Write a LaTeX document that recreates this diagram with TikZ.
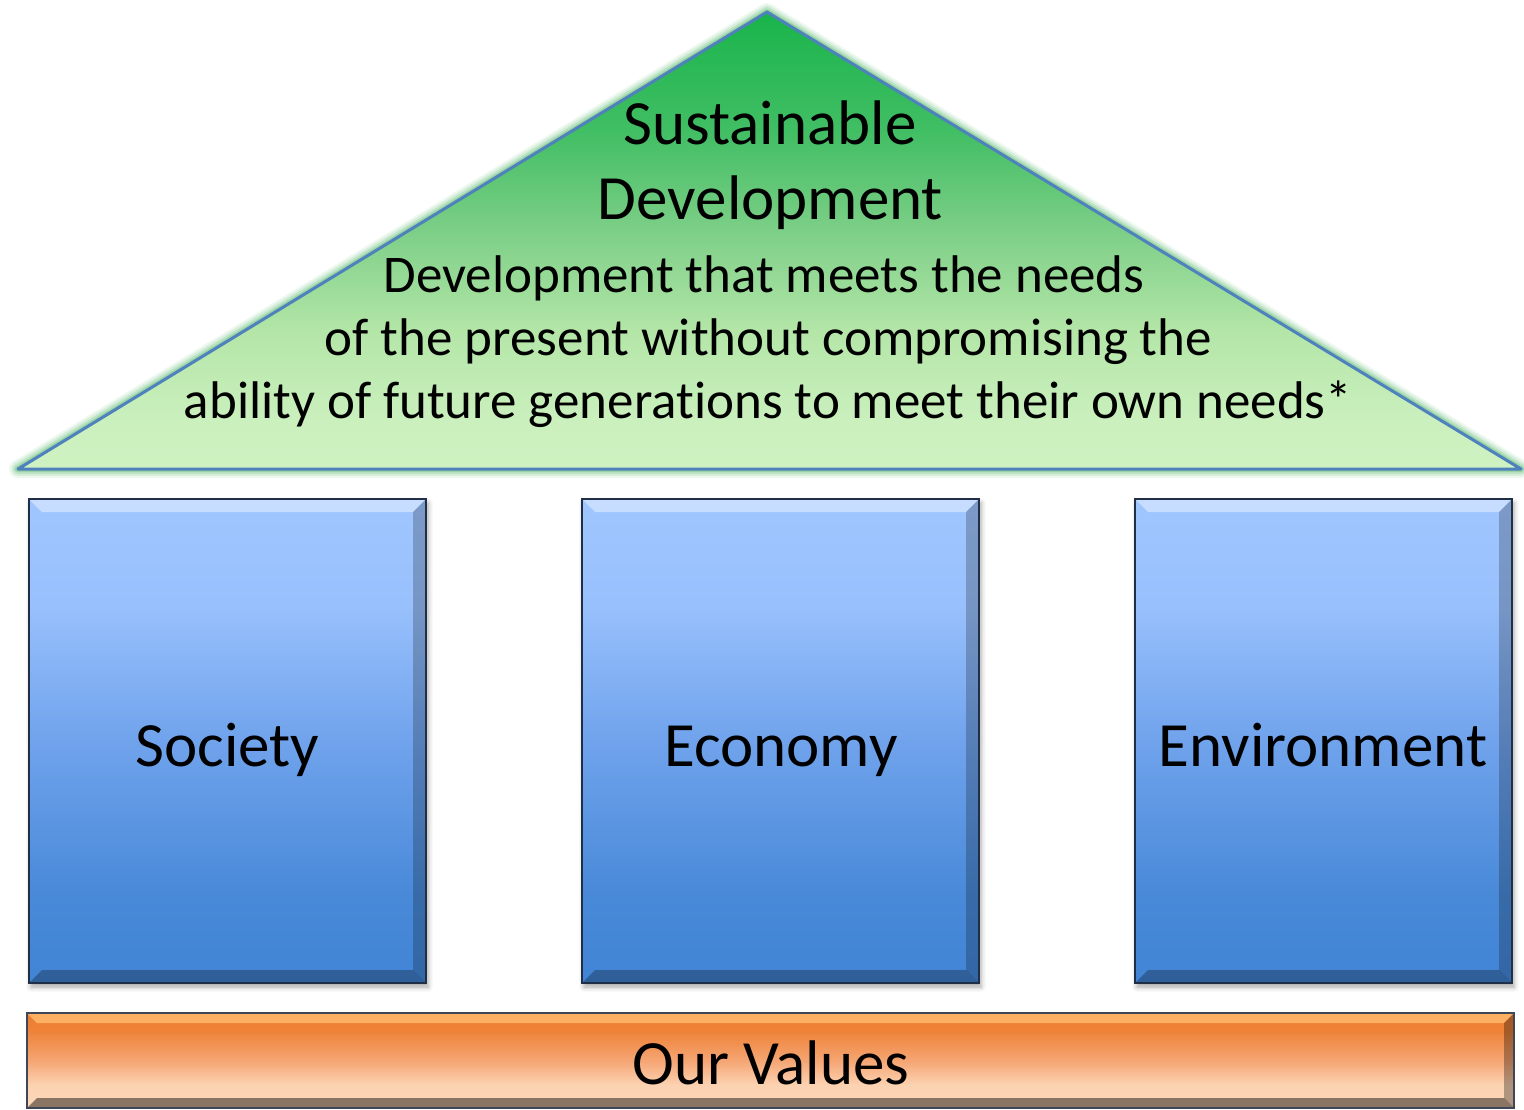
\documentclass[tikz,border=0pt]{standalone}
\usepackage{fontspec}
\setmainfont{Carlito}[Ligatures=NoCommon]
\usetikzlibrary{shadows.blur,calc}

\definecolor{tritop}{RGB}{25,180,75}
\definecolor{triA}{RGB}{65,190,100}
\definecolor{triB}{RGB}{125,207,135}
\definecolor{triC}{RGB}{180,230,168}
\definecolor{triD}{RGB}{203,240,190}
\definecolor{tribot}{RGB}{206,242,193}
\definecolor{triline}{RGB}{79,129,189}
\definecolor{glowgreen}{RGB}{90,185,110}

\definecolor{pA}{RGB}{160,198,255}
\definecolor{pB}{RGB}{152,192,252}
\definecolor{pC}{RGB}{112,163,236}
\definecolor{pD}{RGB}{72,137,216}
\definecolor{pE}{RGB}{66,132,213}
\definecolor{pborder}{RGB}{32,46,70}

\definecolor{oA}{RGB}{237,125,49}
\definecolor{oB}{RGB}{238,130,55}
\definecolor{oC}{RGB}{245,165,115}
\definecolor{oD}{RGB}{252,211,178}
\definecolor{oE}{RGB}{252,215,184}
\definecolor{oborder}{RGB}{62,70,88}
\definecolor{otop}{RGB}{255,182,105}

\pgfdeclareverticalshading{trishade}{100bp}{color(0bp)=(tribot); color(25bp)=(tribot); color(30bp)=(triD); color(40bp)=(triC); color(51bp)=(triB); color(62bp)=(triA); color(75bp)=(tritop); color(100bp)=(tritop)}
\pgfdeclareverticalshading{pillarshade}{100bp}{color(0bp)=(pE); color(25bp)=(pE); color(34bp)=(pD); color(50bp)=(pC); color(64bp)=(pB); color(75bp)=(pA); color(100bp)=(pA)}
\pgfdeclareverticalshading{barshade}{100bp}{color(0bp)=(oE); color(25bp)=(oE); color(37bp)=(oD); color(50bp)=(oC); color(66bp)=(oB); color(75bp)=(oA); color(100bp)=(oA)}

\tikzset{
  pillar/.style={draw=pborder, line width=2.5pt, minimum width=#1, minimum height=484pt,
    inner sep=0pt, shading=pillarshade,
    blur shadow={shadow xshift=2pt, shadow yshift=-4pt, shadow blur radius=5pt, shadow opacity=35},
    path picture={
      \fill[white,opacity=0.42] (path picture bounding box.north west) -- (path picture bounding box.north east)
        -- ([shift={(-13pt,-13pt)}]path picture bounding box.north east)
        -- ([shift={(13pt,-13pt)}]path picture bounding box.north west) -- cycle;
      \fill[black,opacity=0.22] (path picture bounding box.north east) -- (path picture bounding box.south east)
        -- ([shift={(-13pt,13pt)}]path picture bounding box.south east)
        -- ([shift={(-13pt,-13pt)}]path picture bounding box.north east) -- cycle;
      \fill[black,opacity=0.28] (path picture bounding box.south west) -- (path picture bounding box.south east)
        -- ([shift={(-13pt,13pt)}]path picture bounding box.south east)
        -- ([shift={(13pt,13pt)}]path picture bounding box.south west) -- cycle;
    }},
  valuebar/.style={draw=oborder, line width=2.5pt, minimum width=1487pt, minimum height=95pt,
    inner sep=0pt, shading=barshade,
    path picture={
      \fill[otop,opacity=0.9] (path picture bounding box.north west) -- (path picture bounding box.north east)
        -- ([shift={(-10pt,-10pt)}]path picture bounding box.north east)
        -- ([shift={(10pt,-10pt)}]path picture bounding box.north west) -- cycle;
      \fill[black,opacity=0.3] (path picture bounding box.north east) -- (path picture bounding box.south east)
        -- ([shift={(-10pt,10pt)}]path picture bounding box.south east)
        -- ([shift={(-10pt,-10pt)}]path picture bounding box.north east) -- cycle;
      \fill[black,opacity=0.45] (path picture bounding box.south west) -- (path picture bounding box.south east)
        -- ([shift={(-10pt,10pt)}]path picture bounding box.south east)
        -- ([shift={(10pt,10pt)}]path picture bounding box.south west) -- cycle;
    }},
  bigtxt/.style={font=\fontsize{63}{76}\selectfont, inner sep=0pt, anchor=base, text=black},
  smalltxt/.style={font=\fontsize{53}{64}\selectfont, inner sep=0pt, anchor=base, text=black},
  glow/.style={draw=glowgreen, line join=round}
}

\begin{document}
\begin{tikzpicture}[x=1pt,y=-1pt]
\useasboundingbox (0,0) rectangle (1524,1110);

% roof
\coordinate (apex) at (767,12);
\coordinate (bl) at (18,469);
\coordinate (br) at (1521,469);
\foreach \w/\o in {18/0.10, 14/0.15, 10/0.22, 6/0.35}
  \draw[glow, line width=\w pt, opacity=\o] (apex) -- (bl) -- (br) -- cycle;
\shade[shading=trishade] (apex) -- (bl) -- (br) -- cycle;
\draw[triline, line width=3pt, line join=round] (apex) -- (bl) -- (br) -- cycle;

\node[bigtxt] (t1) at (770,145) {Sustainable};
\node[bigtxt] (t2) at (770.5,220) {Development};
\node[smalltxt] (d1) at (764,292) {Development that meets the needs};
\node[smalltxt] (d2) at (768.5,355) {of the present without compromising the};
\node[smalltxt] (d3) at (768,418) {ability of future generations to meet their own needs*};

% pillars
\node[pillar=397pt] (society) at (227.5,741) {};
\node[pillar=397pt] (economy) at (780.5,741) {};
\node[pillar=377pt] (environment) at (1323.5,741) {};
\node[bigtxt] (societyT) at (227.5,766) {Society};
\node[bigtxt] (economyT) at (781,766) {Economy};
\node[bigtxt] (environmentT) at (1323,766) {Environment};

% base
\node[valuebar] (values) at (770.5,1060.5) {};
\node[bigtxt] (valuesT) at (771,1084) {Our Values};
\end{tikzpicture}
\end{document}
